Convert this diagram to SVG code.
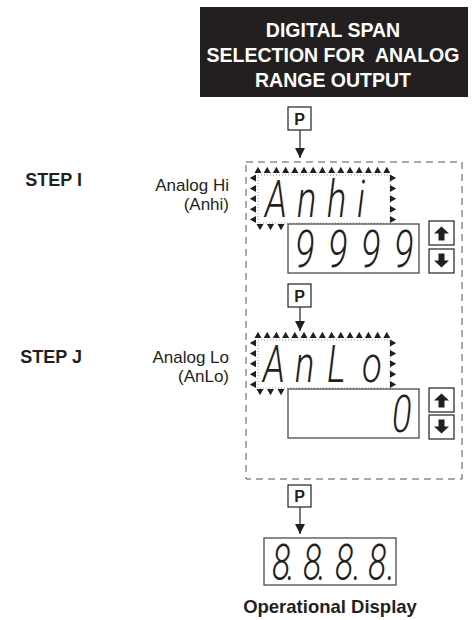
<svg xmlns="http://www.w3.org/2000/svg" xmlns:xlink="http://www.w3.org/1999/xlink" width="476" height="620" viewBox="0 0 476 620">
<style>
.lbl{font-family:"Liberation Sans",Arial,sans-serif;fill:#231f20}
.b{font-weight:bold}
.seg{font-family:Roboto,"DejaVu Sans",sans-serif;font-weight:300;font-style:italic;fill:#231f20}
.box{fill:#fff;stroke:#4a4a4a;stroke-width:1.3}
.pbox{fill:#fff;stroke:#231f20;stroke-width:1.2}
.tri{fill:#231f20}
.conn{stroke:#231f20;stroke-width:1.2;fill:none}
</style>
<defs>
<marker id="ah" markerUnits="userSpaceOnUse" markerWidth="10" markerHeight="10" refX="10" refY="5" orient="auto">
<path d="M0,0 L10,5 L0,10 Z" fill="#231f20"/>
</marker>
<path id="tu" class="tri" d="M-3.5,3 L0,-3.2 L3.5,3 Z"/>
<path id="td" class="tri" d="M-3.5,-3 L0,3.2 L3.5,-3 Z"/>
<path id="tl" class="tri" d="M3,-3.5 L-3.2,0 L3,3.5 Z"/>
<path id="tr" class="tri" d="M-3,-3.5 L3.2,0 L-3,3.5 Z"/>
<g id="frame">
<rect x="258" y="175" width="132" height="48" fill="#fff" stroke="#9a9a9a" stroke-width="1" stroke-dasharray="1 2"/>
<use xlink:href="#tu" x="258" y="170"/><use xlink:href="#tu" x="267.2" y="170"/><use xlink:href="#tu" x="276.4" y="170"/><use xlink:href="#tu" x="285.6" y="170"/><use xlink:href="#tu" x="294.8" y="170"/><use xlink:href="#tu" x="304" y="170"/><use xlink:href="#tu" x="313.2" y="170"/><use xlink:href="#tu" x="322.4" y="170"/><use xlink:href="#tu" x="331.6" y="170"/><use xlink:href="#tu" x="340.8" y="170"/><use xlink:href="#tu" x="350" y="170"/><use xlink:href="#tu" x="359.2" y="170"/><use xlink:href="#tu" x="368.4" y="170"/><use xlink:href="#tu" x="377.6" y="170"/><use xlink:href="#tu" x="386.8" y="170"/>
<use xlink:href="#tl" x="253" y="178"/><use xlink:href="#tl" x="253" y="188.4"/><use xlink:href="#tl" x="253" y="198.8"/><use xlink:href="#tl" x="253" y="209.2"/><use xlink:href="#tl" x="253" y="219.6"/>
<use xlink:href="#tr" x="393" y="178"/><use xlink:href="#tr" x="393" y="188.4"/><use xlink:href="#tr" x="393" y="198.8"/><use xlink:href="#tr" x="393" y="209.2"/><use xlink:href="#tr" x="393" y="219.6"/>
<use xlink:href="#td" x="260" y="227"/><use xlink:href="#td" x="270.5" y="227"/><use xlink:href="#td" x="281" y="227"/>
</g>
<g id="btnUp">
<rect x="0" y="0" width="25" height="24" class="pbox"/>
<path d="M12.5,5.5 L20,12.5 L15.5,12.5 L15.5,19.5 L9.5,19.5 L9.5,12.5 L5,12.5 Z" fill="#231f20"/>
</g>
<g id="btnDown">
<rect x="0" y="0" width="25" height="24" class="pbox"/>
<path d="M12.5,18.5 L20,11.5 L15.5,11.5 L15.5,4.5 L9.5,4.5 L9.5,11.5 L5,11.5 Z" fill="#231f20"/>
</g>
</defs>

<g id="title">
<rect x="200" y="7" width="268" height="90" fill="#231f20"/>
<text class="lbl b" x="333" y="37" font-size="19.5" text-anchor="middle" style="fill:#fff">DIGITAL SPAN</text>
<text class="lbl b" x="333" y="62" font-size="19.5" text-anchor="middle" style="fill:#fff" xml:space="preserve">SELECTION FOR  ANALOG</text>
<text class="lbl b" x="333" y="87" font-size="19.5" text-anchor="middle" style="fill:#fff">RANGE OUTPUT</text>
</g>

<g id="step-labels">
<text class="lbl b" x="82" y="186" font-size="18" text-anchor="end">STEP I</text>
<text class="lbl b" x="82" y="363" font-size="18" text-anchor="end">STEP J</text>
<text class="lbl" x="229" y="191" font-size="17" text-anchor="end">Analog Hi</text>
<text class="lbl" x="229" y="210" font-size="17" text-anchor="end">(Anhi)</text>
<text class="lbl" x="229" y="363" font-size="17" text-anchor="end">Analog Lo</text>
<text class="lbl" x="229" y="382" font-size="17" text-anchor="end">(AnLo)</text>
</g>

<g id="p1">
<rect class="pbox" x="288" y="107" width="23" height="23"/>
<text class="lbl b" x="299.5" y="124.5" font-size="16" text-anchor="middle">P</text>
</g>

<g id="menu-box">
<rect x="246" y="162" width="216" height="317" fill="none" stroke="#555" stroke-width="1" stroke-dasharray="7 5"/>
</g>

<g id="display-anhi">
<use xlink:href="#frame"/>
<text class="seg" font-size="52" transform="translate(265,217) scale(0.7,1)" x="0 45.7 88.6 131.4" y="0">Anhi</text>
<rect class="box" x="288" y="224" width="131" height="49"/>
<text class="seg" font-size="52" transform="translate(295,267) scale(0.7,1)" x="0 47.1 94.3 141.4" y="0">9999</text>
<use xlink:href="#btnUp" x="429" y="221"/>
<use xlink:href="#btnDown" x="429" y="249"/>
</g>

<g id="p2">
<rect class="pbox" x="288" y="284" width="23" height="23"/>
<text class="lbl b" x="299.5" y="301.5" font-size="16" text-anchor="middle">P</text>
</g>

<g id="display-anlo">
<use xlink:href="#frame" transform="translate(0,165)"/>
<text class="seg" font-size="52" transform="translate(263,382) scale(0.7,1)" x="0 45.7 91.4 141.4" y="0">AnLo</text>
<rect class="box" x="288" y="389" width="131" height="49"/>
<text class="seg" font-size="52" transform="translate(392,432) scale(0.7,1)" x="0" y="0">0</text>
<use xlink:href="#btnUp" x="429" y="388"/>
<use xlink:href="#btnDown" x="429" y="415"/>
</g>

<g id="p3">
<rect class="pbox" x="288" y="485" width="23" height="22"/>
<text class="lbl b" x="299.5" y="502" font-size="16" text-anchor="middle">P</text>
</g>

<g id="operational-display">
<rect class="box" x="264" y="538" width="132" height="47"/>
<text class="seg" font-size="49" transform="translate(272,580) scale(0.7,1)" x="0 21.4 44.3 65.7 90 115.7 137.1 164.3" y="0">8.8.8.8.</text>
<text class="lbl b" x="330" y="613" font-size="18.5" text-anchor="middle">Operational Display</text>
</g>

<g id="connectors">
<line class="conn" x1="300" y1="130" x2="300" y2="158" marker-end="url(#ah)"/>
<line class="conn" x1="300" y1="307" x2="300" y2="331" marker-end="url(#ah)"/>
<line class="conn" x1="300" y1="507" x2="300" y2="534" marker-end="url(#ah)"/>
</g>
</svg>
